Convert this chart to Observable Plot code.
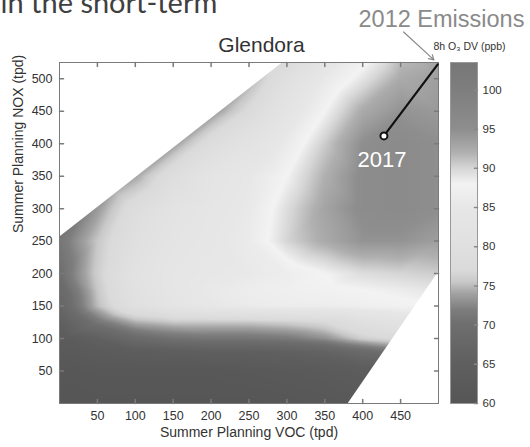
<!DOCTYPE html>
<html><head><meta charset="utf-8">
<script src="https://cdn.jsdelivr.net/npm/d3@7"></script>
<script src="https://cdn.jsdelivr.net/npm/@observablehq/plot@0.6"></script>
<style>
body{margin:0;background:#fff;}
#wrap{position:relative;width:530px;height:447px;overflow:hidden;}
#wrap svg{position:absolute;left:0;top:0;}
</style></head><body><div id="wrap"></div>
<script>
// ---- data ----
const vocGrid = [0, 50, 100, 150, 200, 250, 300, 350, 400, 450, 500];
const noxGrid = [0, 50, 80, 100, 125, 150, 175, 200, 250, 300, 350, 400, 450, 500, 550];
const o3Grid = [
  [60, 60, 60, 60, 60, 60, 60.5, 61, 61.5, 62, 62],
  [60.5, 61, 61, 61, 61, 61.5, 62, 62.5, 63.5, 64, 65],
  [62, 63, 64, 64.5, 65, 65, 65.5, 66.5, 69, 71, 72],
  [63, 65.5, 69, 70.5, 71, 71, 71.5, 73, 76, 77.5, 78],
  [65, 71, 74.5, 75.5, 75.5, 75.5, 76, 77, 80, 82, 83],
  [67.5, 75, 80, 83, 85, 86, 86.5, 86.5, 87, 87.5, 88],
  [68.5, 75.5, 81, 84, 85.5, 86.5, 87, 87.5, 88, 88.5, 89],
  [70, 76, 81.5, 84, 85, 85.5, 86.5, 88, 89.5, 90, 90.5],
  [71, 75.5, 80, 83, 84.5, 86, 90, 92.5, 94.5, 94.5, 93.5],
  [70, 73.5, 78.5, 82, 84, 85.5, 89.5, 93, 95.5, 96, 95],
  [68, 71, 74, 79, 83, 85, 88, 92, 95.5, 96, 95],
  [66, 69, 71, 73.5, 78.5, 82, 86, 90.5, 95, 96, 95],
  [64, 67, 69, 71, 73, 77.5, 83, 88, 92.5, 94.5, 94],
  [62, 65, 67, 69, 71, 74, 80, 85.5, 89, 92.5, 93.5],
  [60, 63, 65, 67, 69, 72, 75, 81, 86, 90.5, 93]
];
const xTicks = [50, 100, 150, 200, 250, 300, 350, 400, 450];
const yTicks = [50, 100, 150, 200, 250, 300, 350, 400, 450, 500];
const cbTicks = [60, 65, 70, 75, 80, 85, 90, 95, 100];
const cbStops = [60, 65, 70, 72, 74, 75.5, 77, 80, 85, 88, 90, 92, 95, 100, 103.5];
const cbGrays = ["#565656","#5f5f5f","#6e6e6e","#7e7e7e","#a2a2a2","#c8c8c8","#dadada","#e0e0e0","#e7e7e7","#f3f3f3","#d6d6d6","#b0b0b0","#8e8e8e","#7e7e7e","#777777"];
const emissions = [
  {label: "2017", voc: 428, nox: 412},
  {label: "2012", voc: 499, nox: 522}
];
const upperMask = [{voc: 0, nox: 256}, {voc: 295, nox: 525}];
const lowerMask = [{voc: 381, nox: 0}, {voc: 500, nox: 202}];
const arrowNote = [{voc1: 454, nox1: 572, voc2: 494, nox2: 529}];

// ---- build ----
const points = [];
noxGrid.forEach((n, i) => vocGrid.forEach((v, j) => points.push({voc: v, nox: n, o3: o3Grid[i][j]})));
const cbMin = cbStops[0], cbMax = cbStops[cbStops.length - 1];
const gray = d3.scaleLinear().domain(cbStops).range(cbGrays).clamp(true);
const colorScale = {type: "linear", domain: [cbMin, cbMax], interpolate: t => gray(cbMin + t * (cbMax - cbMin))};
const tickShape = {draw(context, l) { context.moveTo(0, 0); context.lineTo(0, -l); }};
const font = "'Liberation Sans', Arial, sans-serif";
const tickStroke = "#7a7a7a";

const main = Plot.plot({
  width: 530, height: 447,
  marginLeft: 59, marginRight: 92, marginTop: 62, marginBottom: 44,
  x: {domain: [0, 500]},
  y: {domain: [0, 525]},
  color: colorScale,
  style: {fontFamily: font, background: "transparent", overflow: "visible"},
  marks: [
    Plot.raster(points, {x: "voc", y: "nox", fill: "o3", interpolate: "barycentric"}),
    Plot.areaY(upperMask, {x: "voc", y1: "nox", y2: 525, fill: "white"}),
    Plot.areaY(lowerMask, {x: "voc", y1: 0, y2: "nox", fill: "white"}),
    Plot.frame({stroke: tickStroke}),
    Plot.vector(xTicks, {x: d => d, y: 0, length: 4, rotate: 0, anchor: "start", shape: tickShape, stroke: tickStroke}),
    Plot.vector(xTicks, {x: d => d, y: 525, length: 4, rotate: 180, anchor: "start", shape: tickShape, stroke: tickStroke}),
    Plot.vector(yTicks, {x: 0, y: d => d, length: 4, rotate: 90, anchor: "start", shape: tickShape, stroke: tickStroke}),
    Plot.vector(yTicks, {x: 500, y: d => d, length: 4, rotate: -90, anchor: "start", shape: tickShape, stroke: tickStroke}),
    Plot.axisX(xTicks, {anchor: "bottom", tickSize: 0, tickPadding: 8, fontSize: 12.5, color: "#333", label: null}),
    Plot.axisY(yTicks, {anchor: "left", tickSize: 0, tickPadding: 7, fontSize: 12.5, color: "#333", label: null}),
    Plot.line(emissions, {x: "voc", y: "nox", stroke: "#111", strokeWidth: 2.2}),
    Plot.dot(emissions.filter(d => d.label === "2017"), {x: "voc", y: "nox", r: 3.5, fill: "white", stroke: "#111", strokeWidth: 2}),
    Plot.text(emissions.filter(d => d.label === "2017"), {x: "voc", y: "nox", text: "label", dy: 24.5, dx: -2, fill: "white", fontSize: 22}),
    Plot.arrow(arrowNote, {x1: "voc1", y1: "nox1", x2: "voc2", y2: "nox2", stroke: "#8a8a8a", strokeWidth: 1.2, headLength: 7}),
    Plot.text(["Summer Planning VOC (tpd)"], {frameAnchor: "bottom", dy: 33, fontSize: 14, fill: "#333"}),
    Plot.text(["Summer Planning NOX (tpd)"], {frameAnchor: "left", dx: -41, rotate: -90, fontSize: 14, fill: "#333"}),
    Plot.text(["Glendora"], {frameAnchor: "top", dx: 12.5, dy: -11, lineAnchor: "bottom", fontSize: 21, fill: "#333"}),
    Plot.text(["2012 Emissions"], {frameAnchor: "top-right", dx: -80, dy: -35.3, textAnchor: "start", lineAnchor: "bottom", fontSize: 23.5, fill: "#8a8a8a"}),
    Plot.text(["in the short-term"], {frameAnchor: "top-left", dx: -59, dy: -50, textAnchor: "start", lineAnchor: "bottom", fontSize: 29, fontFamily: "Lato, 'Open Sans', sans-serif", fill: "#3f3f3f"})
  ]
});

const bar = Plot.plot({
  width: 530, height: 447,
  marginLeft: 450, marginRight: 53, marginTop: 62, marginBottom: 44,
  x: {domain: [0, 1], axis: null},
  y: {domain: [cbMin, cbMax]},
  color: colorScale,
  style: {fontFamily: font, background: "transparent", overflow: "visible"},
  marks: [
    Plot.raster({x1: 0, x2: 1, y1: cbMin, y2: cbMax, fill: (x, y) => y, pixelSize: 1}),
    Plot.frame({stroke: "#999"}),
    Plot.vector(cbTicks, {x: 1, y: d => d, length: 3, rotate: -90, anchor: "start", shape: tickShape, stroke: "#888"}),
    Plot.axisY(cbTicks, {anchor: "right", tickSize: 0, tickPadding: 5, fontSize: 11.5, color: "#333", label: null}),
    Plot.text(["8h O\u2083 DV (ppb)"], {frameAnchor: "top", dx: 5.5, dy: -20.3, fontSize: 10.5, fill: "#333"})
  ]
});

const wrap = document.getElementById("wrap");
wrap.appendChild(main);
wrap.appendChild(bar);
bar.style.pointerEvents = "none";
</script>
</body></html>
